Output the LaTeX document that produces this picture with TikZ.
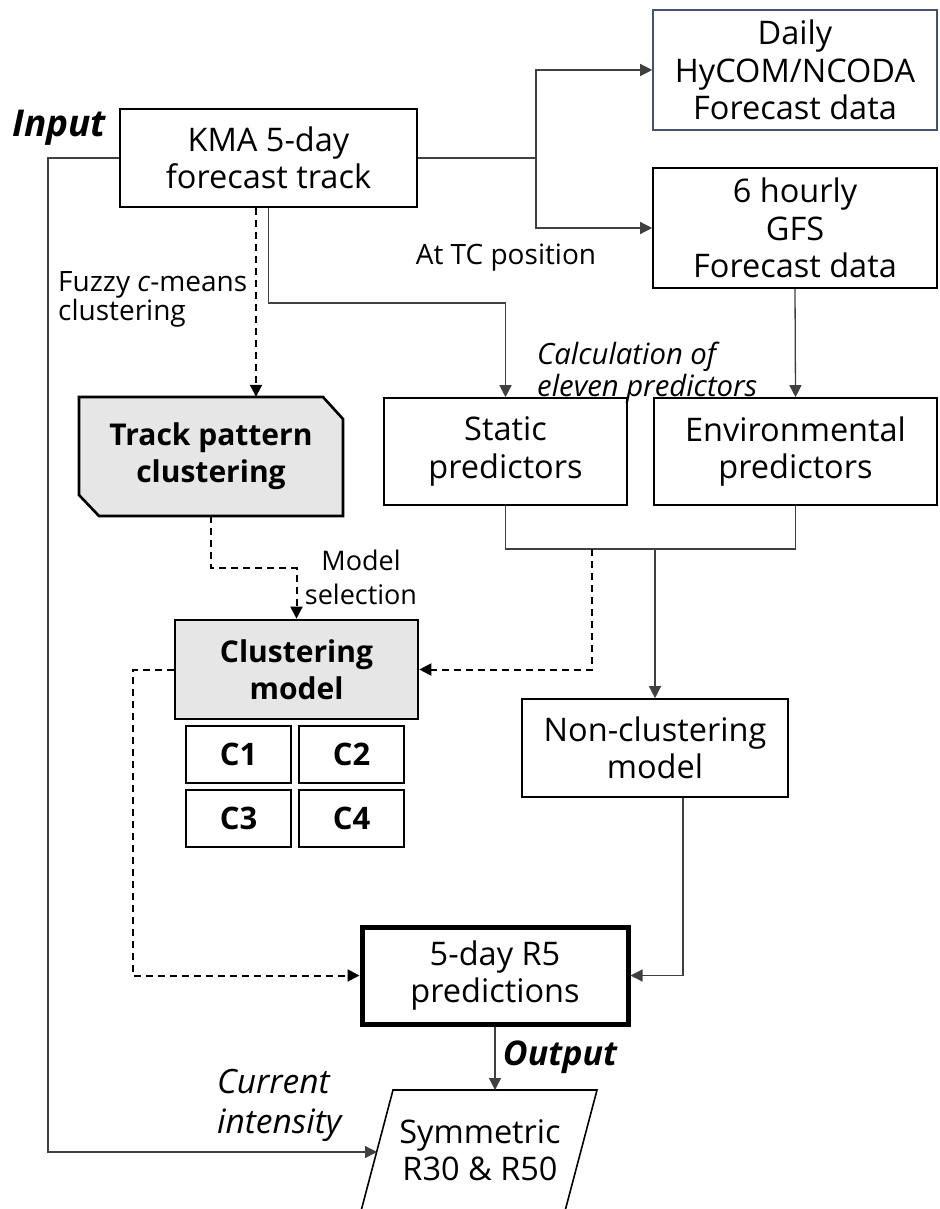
\documentclass[tikz,border=0pt]{standalone}
\usepackage{fontspec}
\setmainfont{Open Sans}
\usetikzlibrary{arrows.meta,calc}
\definecolor{linegray}{HTML}{404040}
\definecolor{boxgray}{HTML}{E7E6E6}
\definecolor{slate}{HTML}{44546A}
\newcommand\mainfs{\fontsize{32.5}{37.5}\selectfont}
\newcommand\boldfs{\fontsize{30}{37}\selectfont\bfseries}
\newcommand\labfs{\fontsize{28}{27}\selectfont}
\newcommand\itfs{\fontsize{29.3}{32}\selectfont\itshape}
\begin{document}
\begin{tikzpicture}[x=1pt,y=-1pt,
  box/.style={draw=black, line width=1.6pt, fill=white, align=center, inner sep=0pt, font=\mainfs},
  graybox/.style={box, fill=boxgray, line width=2.6pt, font=\boldfs},
  cbox/.style={box, line width=2pt, font=\fontsize{31}{37}\selectfont\bfseries, minimum width=105pt, minimum height=57pt},
  conn/.style={draw=linegray, line width=1.3pt},
  dsh/.style={draw=black, line width=2pt, dash pattern=on 7pt off 5pt},
  arr/.style={-{Triangle[length=12pt,width=12pt]}},
  lab/.style={inner sep=0pt, font=\labfs}
]
\useasboundingbox (0,0) rectangle (939,1209);
\clip (0,0) rectangle (939,1209);

% nodes
\node[box, minimum width=297pt, minimum height=98pt] (kma) at (268.5,158) {KMA 5-day\\forecast track};
\node[box, draw=slate, minimum width=284pt, minimum height=120pt] (hycom) at (795,70) {Daily\\HyCOM/NCODA\\Forecast data};
\node[box, minimum width=284pt, minimum height=120pt] (gfs) at (795,228) {6 hourly\\GFS\\Forecast data};
\node[box, minimum width=243pt, minimum height=107pt] (static) at (505.5,451.5) {Static\\predictors};
\node[box, minimum width=283pt, minimum height=107pt] (env) at (795.5,451.5) {Environmental\\predictors};

\path[fill=boxgray, draw=black, line width=2.6pt] (79,397) -- (323,397) -- (343,419) -- (343,516) -- (99,516) -- (79,495) -- cycle;
\node[inner sep=0pt, minimum width=264pt, minimum height=119pt, align=center, font=\boldfs] (track) at (211,456.5) {Track pattern\\clustering};

\node[graybox, minimum width=243pt, minimum height=99pt] (clust) at (296.5,669.5) {Clustering\\model};
\node[cbox] (c1) at (238.5,754.5) {C1};
\node[cbox] (c2) at (351.5,754.5) {C2};
\node[cbox] (c3) at (238.5,818) {C3};
\node[cbox] (c4) at (351.5,818) {C4};

\node[box, minimum width=266pt, minimum height=98pt] (nc) at (655,748) {Non-clustering\\model};
\node[box, line width=5pt, minimum width=266pt, minimum height=97pt] (five) at (495,975.5) {5-day R5\\predictions};

\draw[line width=1.6pt] (356,1230) -- (393,1090) -- (597,1090) -- (560,1230);
\node[inner sep=0pt, align=center, font=\mainfs] (sym) at (480,1150) {Symmetric\\R30 \& R50};
\coordinate (symT) at (495,1090);
\coordinate (symL) at (377,1152);

% labels
\node[inner sep=0pt, font=\fontsize{37}{40}\selectfont\bfseries\itshape] (input) at (59,128) {Input};
\node[inner sep=0pt, font=\fontsize{34}{40}\selectfont\bfseries\itshape] (output) at (560,1057) {Output};
\node[lab, align=left, anchor=west] (fuzzy) at (58,299) {Fuzzy \textit{c}-means\\clustering};
\node[lab] (attc) at (506,258) {At TC position};
\node[inner sep=0pt, align=left, anchor=west, font=\itfs] (calc) at (537,373) {Calculation of\\eleven predictors};
\node[lab, align=center, font=\fontsize{27}{34}\selectfont] (msel) at (361,577) {Model\\selection};
\node[inner sep=0pt, align=left, anchor=west, font=\fontsize{33.5}{40}\selectfont\itshape] (cur) at (217,1105) {Current\\intensity};

% connectors
\draw[conn] (kma.east) -- (536,158) coordinate (j1);
\draw[conn,arr] (j1) |- (hycom.west);
\draw[conn,arr] (j1) |- (gfs.west);
\draw[conn,arr] (kma.south) -- (268.5,303) -| (static.north);
\draw[dsh,arr] ([xshift=-12.5pt]kma.south) -- ([xshift=-12.5pt]kma.south |- track.north);
\draw[conn,arr] (gfs.south) -- (env.north);
\draw[conn] (static.south) -- (505.5,549) -| (env.south);
\coordinate (m1) at (655,549);
\coordinate (m2) at (592,549);
\draw[conn,arr] (m1) -- (nc.north);
\draw[dsh,arr] (m2) |- (clust.east);
\draw[dsh,arr] (track.south) -- (211,568) -| (clust.north);
\draw[dsh,arr] (clust.west) -- (133,669.5) |- (five.west);
\draw[conn,arr] ([xshift=28pt]nc.south) |- (five.east);
\draw[conn,arr] (five.south) -- (symT);
\draw[conn,arr] (kma.west) -- (48,158) |- (symL);
\end{tikzpicture}
\end{document}
